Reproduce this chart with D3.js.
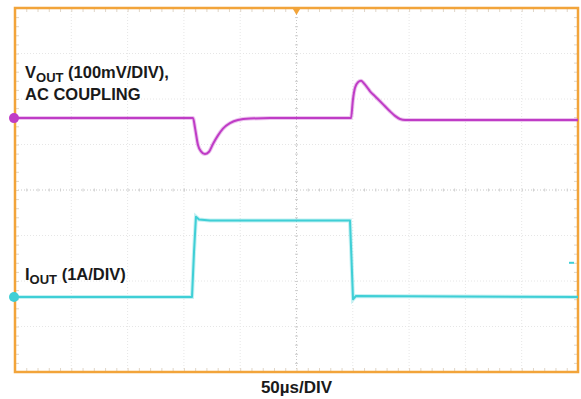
<!DOCTYPE html>
<html><head><meta charset="utf-8">
<script src="https://cdn.jsdelivr.net/npm/d3@7"></script>
<style>
html,body{margin:0;padding:0;background:#fff;}
svg{display:block;}
text{font-family:"Liberation Sans",Arial,Helvetica,sans-serif;font-weight:bold;fill:#1a1a1a;}
</style></head>
<body>
<script>
// ---- data ----
const timeDomainUs = [0, 500];           // 50 µs/DIV, 10 divisions
const divDomain = [-4, 4];               // 8 vertical divisions
const voutTimeUs = [0, 158.1, 159.9, 162.5, 165.2, 168.7, 172.3, 175.8, 180.3, 184.7, 190.9, 198.0, 208.7, 226.4, 298.4, 300.1, 301.9, 304.6, 307.3, 310.0, 312.6, 315.3, 319.7, 324.2, 328.6, 333.0, 337.5, 341.9, 346.4, 350.8, 368.6, 500];
const voutMv     = [0, 0, -22, -59, -73, -79, -74, -57, -38, -23, -11, -4, -1, 0, 0, 40, 66, 79, 82, 76, 68, 59, 48, 37, 26, 15, 5, -2, -4, -4, -4, -4];
const ioutTimeUs = [0, 157.2, 159.0, 160.7, 163.4, 173.2, 297.5, 298.9, 300.2, 302.8, 500];
const ioutA      = [0, 0, 1.0, 1.76, 1.70, 1.68, 1.68, 0.8, -0.05, 0.02, 0];
const voutOffsetDiv = 1.58, voutMvPerDiv = 100;
const ioutOffsetDiv = -2.35, ioutAPerDiv = 1;
const labels = {vout1: "V", voutSub: "OUT", vout2: " (100mV/DIV),", vout3: "AC COUPLING",
                iout1: "I", ioutSub: "OUT", iout2: " (1A/DIV)", xlabel: "50µs/DIV"};

// ---- drawing ----
const W = 581, H = 399;
const svg = d3.select("body").append("svg").attr("width", W).attr("height", H);
const x = d3.scaleLinear().domain(timeDomainUs).range([15, 578]);
const y = d3.scaleLinear().domain(divDomain).range([372, 8]);
const orange = "#f2a43a", mag = "#bf3cc6", cyan = "#3fcfd6";

// grid
const g = svg.append("g");
const xDivs = d3.range(0, 501, 50), yDivs = d3.range(-4, 5, 1);
g.selectAll(".vg").data(xDivs.slice(1, -1)).enter().append("line")
  .attr("x1", d => x(d)).attr("x2", d => x(d)).attr("y1", y(4)).attr("y2", y(-4))
  .attr("stroke", d => d === 250 ? "#c8c8c8" : "#e6e6e6").attr("stroke-width", 1)
  .attr("stroke-dasharray", "1,2");
g.selectAll(".hg").data(yDivs.slice(1, -1)).enter().append("line")
  .attr("y1", d => y(d)).attr("y2", d => y(d)).attr("x1", x(0)).attr("x2", x(500))
  .attr("stroke", d => d === 0 ? "#c8c8c8" : "#e6e6e6").attr("stroke-width", 1)
  .attr("stroke-dasharray", "1,2");

// minor ticks on center axes and edges
const xMinor = d3.range(0, 501, 10), yMinor = d3.range(-4, 4.01, 0.2);
const tickCol = "#cfcfcf";
g.append("g").attr("transform", `translate(0,${y(0)})`)
  .call(d3.axisBottom(x).tickValues(xMinor).tickSize(3).tickSizeOuter(0).tickFormat(""))
  .call(a => { a.select(".domain").remove(); a.selectAll("line").attr("stroke", tickCol).attr("transform", "translate(0,-1.5)"); });
g.append("g").attr("transform", `translate(${x(250)},0)`)
  .call(d3.axisLeft(y).tickValues(yMinor).tickSize(3).tickSizeOuter(0).tickFormat(""))
  .call(a => { a.select(".domain").remove(); a.selectAll("line").attr("stroke", tickCol).attr("transform", "translate(1.5,0)"); });
g.append("g").attr("transform", `translate(0,${y(4)})`)
  .call(d3.axisBottom(x).tickValues(xMinor).tickSize(4).tickSizeOuter(0).tickFormat(""))
  .call(a => { a.select(".domain").remove(); a.selectAll("line").attr("stroke", "#e0d6c8"); });
g.append("g").attr("transform", `translate(0,${y(-4)})`)
  .call(d3.axisTop(x).tickValues(xMinor).tickSize(4).tickSizeOuter(0).tickFormat(""))
  .call(a => { a.select(".domain").remove(); a.selectAll("line").attr("stroke", "#e0d6c8"); });
g.append("g").attr("transform", `translate(${x(0)},0)`)
  .call(d3.axisRight(y).tickValues(yMinor).tickSize(4).tickSizeOuter(0).tickFormat(""))
  .call(a => { a.select(".domain").remove(); a.selectAll("line").attr("stroke", "#e0d6c8"); });
g.append("g").attr("transform", `translate(${x(500)},0)`)
  .call(d3.axisLeft(y).tickValues(yMinor).tickSize(4).tickSizeOuter(0).tickFormat(""))
  .call(a => { a.select(".domain").remove(); a.selectAll("line").attr("stroke", "#e0d6c8"); });

// border
svg.append("rect").attr("x", x(0)).attr("y", y(4)).attr("width", x(500) - x(0)).attr("height", y(-4) - y(4))
  .attr("fill", "none").attr("stroke", orange).attr("stroke-width", 2.5);

// trigger marker at top
svg.append("path").attr("d", d3.symbol(d3.symbolTriangle, 22)())
  .attr("transform", `translate(${x(250)},${y(4) + 3}) rotate(180)`).attr("fill", orange);

// traces
const voutData = voutTimeUs.map((t, i) => [t, voutMv[i]]);
const ioutData = ioutTimeUs.map((t, i) => [t, ioutA[i]]);
const voutLine = d3.line().x(d => x(d[0])).y(d => y(voutOffsetDiv + d[1] / voutMvPerDiv)).curve(d3.curveMonotoneX);
const ioutLine = d3.line().x(d => x(d[0])).y(d => y(ioutOffsetDiv + d[1] / ioutAPerDiv)).curve(d3.curveLinear);
svg.append("path").datum(voutData).attr("d", voutLine).attr("fill", "none")
  .attr("stroke", mag).attr("stroke-opacity", 0.3).attr("stroke-width", 4);
svg.append("path").datum(voutData).attr("d", voutLine).attr("fill", "none")
  .attr("stroke", mag).attr("stroke-width", 2).attr("stroke-linejoin", "round");
svg.append("path").datum(ioutData).attr("d", ioutLine).attr("fill", "none")
  .attr("stroke", cyan).attr("stroke-opacity", 0.3).attr("stroke-width", 4);
svg.append("path").datum(ioutData).attr("d", ioutLine).attr("fill", "none")
  .attr("stroke", cyan).attr("stroke-width", 2).attr("stroke-linejoin", "round");

// channel markers
svg.append("circle").attr("cx", x(0) - 1).attr("cy", y(voutOffsetDiv)).attr("r", 5).attr("fill", mag);
svg.append("circle").attr("cx", x(0) - 1).attr("cy", y(ioutOffsetDiv)).attr("r", 5).attr("fill", cyan);
// trigger level marker
svg.append("line").attr("x1", x(500) - 9).attr("x2", x(500) - 4)
  .attr("y1", y(ioutOffsetDiv + 0.75)).attr("y2", y(ioutOffsetDiv + 0.75))
  .attr("stroke", cyan).attr("stroke-width", 2);

// labels
const fs = 17;
const t1 = svg.append("text").attr("x", 25).attr("y", 78).style("font-size", "16.5px");
t1.append("tspan").text(labels.vout1);
t1.append("tspan").attr("dy", 4).style("font-size", "13px").text(labels.voutSub);
t1.append("tspan").attr("dy", -4).text(labels.vout2);
svg.append("text").attr("x", 25).attr("y", 100).style("font-size", "16.5px").text(labels.vout3);
const t2 = svg.append("text").attr("x", 25).attr("y", 280).style("font-size", "16.5px");
t2.append("tspan").text(labels.iout1);
t2.append("tspan").attr("dy", 4).style("font-size", "13px").text(labels.ioutSub);
t2.append("tspan").attr("dy", -4).text(labels.iout2);
svg.append("text").attr("x", x(250)).attr("y", 393).attr("text-anchor", "middle").style("font-size", fs + "px").text(labels.xlabel);
</script>
</body></html>
